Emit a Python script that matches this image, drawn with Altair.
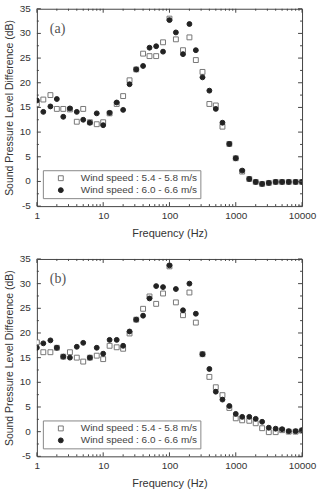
import altair as alt
import pandas as pd

freqs = [1, 1.25, 1.6, 2, 2.5, 3.15, 4, 5, 6.3, 8, 10, 12.5, 16, 20, 25, 31.5, 40, 50, 63, 80,
         100, 125, 160, 200, 250, 315, 400, 500, 630, 800, 1000, 1250, 1600, 2000, 2500, 3150,
         4000, 5000, 6300, 8000, 10000]

series_names = ["Wind speed : 5.4 - 5.8 m/s", "Wind speed : 6.0 - 6.6 m/s"]

# panel (a)
a_low = [15.7, 16.6, 17.5, 14.7, 14.7, 14.6, 12.1, 14.7, 12.0, 11.6, 12.0, 13.8, 15.7, 17.3, 20.5,
         22.7, 25.9, 25.4, 25.4, 28.2, 33.0, 28.8, 26.6, 29.2, 24.6, 22.2, 15.7, 15.4, 11.1, 7.6,
         4.7, 2.0, 0.5, -0.1, -0.5, -0.3, -0.1, -0.1, -0.1, -0.1, -0.1]
a_high = [16.4, 14.1, 15.2, 16.7, 13.1, 14.8, 14.1, 12.5, 11.9, 13.8, 11.4, 13.9, 16.0, 14.5, 19.7,
          22.7, 23.4, 27.1, 27.4, 26.3, 32.7, 30.2, 25.8, 31.9, 26.6, 21.1, 18.4, 14.7, 11.9, 7.6,
          4.7, 2.2, 0.5, -0.1, -0.5, -0.3, -0.1, -0.1, -0.1, -0.1, -0.1]

# panel (b)
b_low = [18.1, 16.1, 16.1, 17.0, 15.2, 16.1, 15.0, 14.2, 15.0, 15.4, 14.7, 17.4, 17.1, 16.8, 19.9,
         22.7, 24.9, 27.4, 25.9, 28.0, 33.5, 26.2, 23.6, 28.2, 22.1, 15.7, 11.1, 9.0, 7.4, 4.8,
         2.7, 2.3, 2.2, 1.7, 0.7, -0.1, -0.1, 0.3, 0.0, 0.0, 0.2]
b_high = [17.0, 17.9, 18.5, 17.0, 15.2, 15.0, 17.2, 18.0, 15.0, 17.0, 15.8, 18.6, 18.6, 17.4, 20.3,
          22.7, 23.5, 27.0, 29.5, 29.3, 33.7, 28.9, 24.6, 30.0, 23.9, 15.7, 12.7, 8.1, 6.5, 5.2,
          3.6, 3.0, 3.0, 2.6, 2.0, 0.8, 0.6, 0.5, 0.1, 0.1, 0.3]

x_major = [1, 10, 100, 1000, 10000]
x_minor = [k * 10 ** d for d in range(4) for k in range(2, 10)]
y_major = [-5, 0, 5, 10, 15, 20, 25, 30, 35]
y_minor = [-2.5, 2.5, 7.5, 12.5, 17.5, 22.5, 27.5, 32.5]
y_tick_labels = ["-5", "0", "5", "10", "15", "20", "25", "30", "35"]

W, H = 266, 198
FRAME = "#444444"

xscale = alt.Scale(type="log", domain=[1, 10000], nice=False)
yscale = alt.Scale(domain=[-5, 35], nice=False, zero=False)

x_axis = alt.Axis(values=x_major, labelExpr="'' + datum.value", ticks=False,
                  domain=False, grid=False, labelPadding=4, labelFontSize=10,
                  labelOverlap=False, labelFlush=False,
                  title="Frequency (Hz)", titleFontSize=11,
                  titleX=W / 2, titleY=27, titleBaseline="middle")
y_axis = alt.Axis(values=y_major, labels=False, ticks=False,
                  domain=False, grid=False,
                  title="Sound Pressure Level Difference (dB)", titleFontSize=10.5,
                  titleX=-27, titleY=H / 2, titleBaseline="middle")


def tick_layer(values, orient, length):
    d = pd.DataFrame({"v": values})
    base = alt.Chart(d).mark_rule(color=FRAME, strokeWidth=1)
    if orient in ("left", "right"):
        x0 = 0 if orient == "left" else W
        x1 = length if orient == "left" else W - length
        return base.encode(y=alt.Y("v:Q", scale=yscale, axis=y_axis),
                           x=alt.value(x0), x2=alt.value(x1))
    y0 = H if orient == "bottom" else 0
    y1 = H - length if orient == "bottom" else length
    return base.encode(x=alt.X("v:Q", scale=xscale, axis=x_axis),
                       y=alt.value(y0), y2=alt.value(y1))


def ylabel_layer(vals, labs):
    d = pd.DataFrame({"pos": vals, "lab": labs})
    return alt.Chart(d).mark_text(
        font="Liberation Sans", fontSize=10, align="right", baseline="middle", color="#333333"
    ).encode(y=alt.Y("pos:Q", scale=yscale, axis=y_axis), text="lab:N", x=alt.value(-6))


def panel(low, high, tag):
    df = pd.DataFrame({
        "freq": freqs + freqs,
        "spl": low + high,
        "series": [series_names[0]] * len(freqs) + [series_names[1]] * len(freqs),
    })
    leg = alt.Legend(title=None, orient="none", legendX=6, legendY=162,
                     strokeColor="#888888", fillColor="white", padding=3,
                     labelFontSize=10, labelColor="#444444", labelFont="Liberation Sans",
                     symbolOffset=10, labelOffset=15, rowPadding=2,
                     symbolSize=24, symbolStrokeWidth=1)
    points = alt.Chart(df).mark_point(size=24, strokeWidth=1, opacity=1, clip=True).encode(
        x=alt.X("freq:Q", scale=xscale, axis=x_axis),
        y=alt.Y("spl:Q", scale=yscale, axis=y_axis),
        shape=alt.Shape("series:N", scale=alt.Scale(domain=series_names, range=["square", "circle"]), legend=leg),
        fill=alt.Fill("series:N", scale=alt.Scale(domain=series_names, range=["white", "#222222"]), legend=leg),
        stroke=alt.Stroke("series:N", scale=alt.Scale(domain=series_names, range=["#777777", "#222222"]), legend=leg),
    )
    label = alt.Chart(pd.DataFrame({"t": [tag]})).mark_text(
        font="Liberation Serif", fontSize=14, align="left", baseline="middle", color="#555555"
    ).encode(text="t:N", x=alt.value(13), y=alt.value(20))
    ticks = [
        tick_layer(y_major, "left", 4), tick_layer(y_minor, "left", 2),
        tick_layer(y_major, "right", 4), tick_layer(y_minor, "right", 2),
        tick_layer(x_major, "bottom", 4), tick_layer(x_minor, "bottom", 2),
        tick_layer(x_major, "top", 4), tick_layer(x_minor, "top", 2),
    ]
    ylabs = [
        ylabel_layer(y_major[0::2], y_tick_labels[0::2]),
        ylabel_layer(y_major[1::2], y_tick_labels[1::2]),
    ]
    return alt.layer(points, *ticks, *ylabs, label).properties(width=W, height=H)


chart = alt.vconcat(
    panel(a_low, a_high, "(a)"),
    panel(b_low, b_high, "(b)"),
    spacing=53, bounds="flush",
).resolve_scale(shape="independent", fill="independent", stroke="independent").properties(
    padding={"left": 4, "top": 2, "right": 0, "bottom": 0},
    background="white",
).configure_view(stroke=FRAME, strokeWidth=1).configure_axis(
    labelFont="Liberation Sans", titleFont="Liberation Sans",
    labelColor="#333333", titleColor="#333333", titleFontWeight="normal",
)

chart.save("out.html", embed_options={"renderer": "svg", "actions": False})
